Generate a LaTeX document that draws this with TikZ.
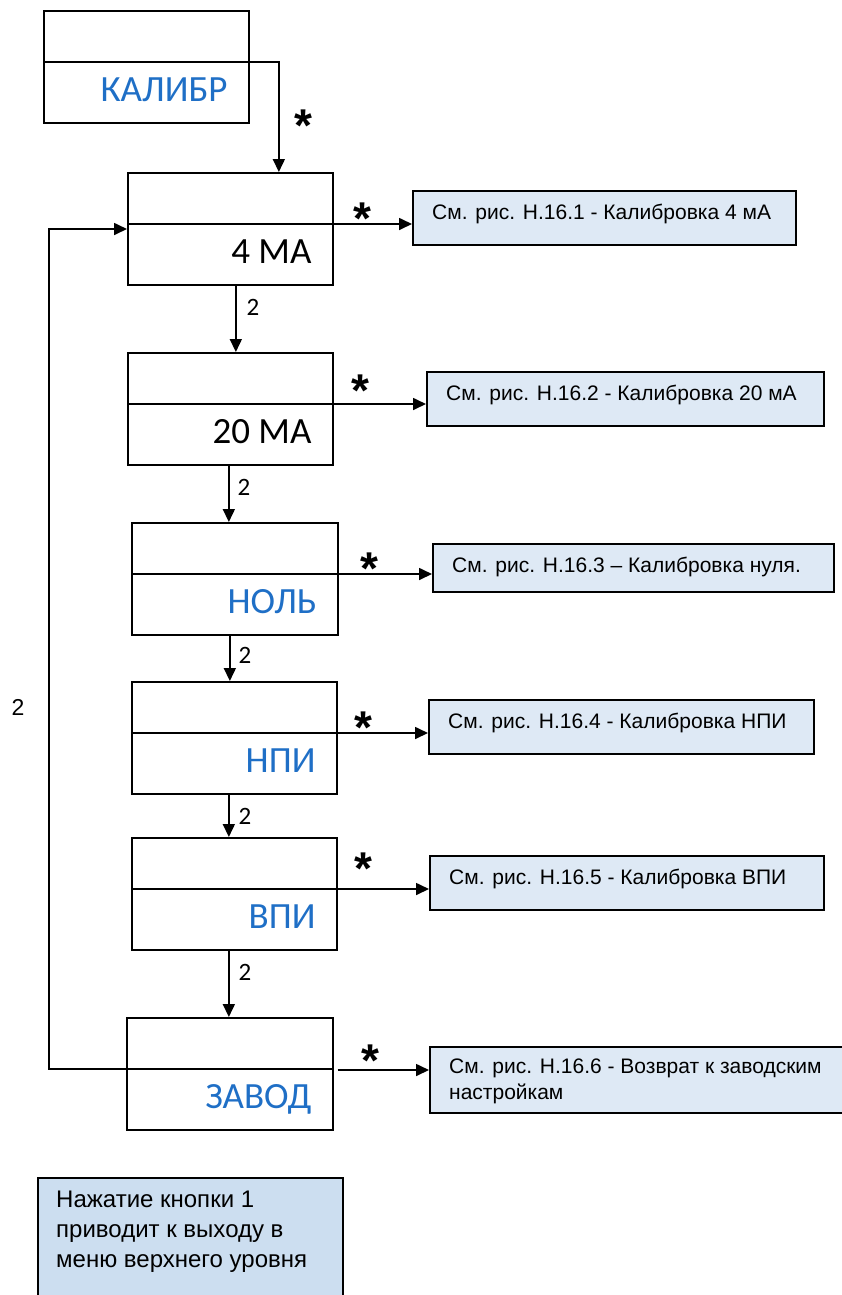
\documentclass[tikz,border=0pt]{standalone}
\usepackage{fontspec}
\setmainfont{Liberation Sans}
\newfontfamily\calib{Carlito}
\usetikzlibrary{arrows.meta}
\definecolor{lblue}{RGB}{31,111,198}
\definecolor{rfill}{RGB}{222,233,245}
\definecolor{nfill}{RGB}{204,222,240}
\newcommand\mkmenu[6]{%
  \node[menubox, minimum width=#6bp] (#1) at (#2,#3) {};
  \coordinate (#1-dl) at ([yshift=-52bp]#1.north west);
  \coordinate (#1-dr) at ([yshift=-52bp]#1.north east);
  \draw[conn] (#1-dl) -- (#1-dr);
  \node[mlabel, text=#5] (#1-t) at ([xshift=-22bp,yshift=-39bp]#1-dr) {#4};
}
\newcommand\mkref[6]{%
  \node[refbox, minimum width=#4bp, minimum height=#5bp] (#1) at (#2,#3) {};
  \node[rtext] (#1-t) at ([xshift=20bp,yshift=-29bp]#1.north west) {#6};
}
\begin{document}
\begin{tikzpicture}[x=1bp,y=-1bp,
  menubox/.style={draw, line width=1.7bp, minimum height=112bp, inner sep=0pt, anchor=north west},
  refbox/.style={draw, line width=1.7bp, fill=rfill, inner sep=0pt, anchor=north west},
  conn/.style={line width=1.7bp},
  arr/.style={line width=1.7bp, -{Triangle[length=13bp,width=12bp]}},
  mlabel/.style={font=\calib\fontsize{37bp}{42bp}\selectfont, anchor=base east, inner sep=0pt},
  rtext/.style={font=\fontsize{21bp}{26bp}\selectfont, anchor=base west, inner sep=0pt},
  star/.style={font=\bfseries\fontsize{46bp}{46bp}\selectfont, anchor=base, inner sep=0pt},
  two/.style={font=\calib\fontsize{25bp}{25bp}\selectfont, anchor=base, inner sep=0pt}]
\useasboundingbox (0,0) rectangle (842,1295);

% menu boxes
\mkmenu{kal}{43}{10}{КАЛИБР}{lblue}{205}
\mkmenu{ma4}{127}{172}{4 МА}{black}{205}
\mkmenu{ma20}{127}{352}{20 МА}{black}{205}
\mkmenu{nol}{131}{522}{НОЛЬ}{lblue}{206}
\mkmenu{npi}{131}{681}{НПИ}{lblue}{205}
\mkmenu{vpi}{131}{837}{ВПИ}{lblue}{205}
\mkmenu{zav}{126}{1017}{ЗАВОД}{lblue}{206}

% reference boxes
\mkref{r1}{412}{190}{383}{54}{См. рис. Н.16.1 - Калибровка 4 мА}
\mkref{r2}{426}{371}{397}{54}{См. рис. Н.16.2 - Калибровка 20 мА}
\mkref{r3}{432}{543}{401}{48}{См. рис. Н.16.3 – Калибровка нуля.}
\mkref{r4}{428}{699}{385}{54}{См. рис. Н.16.4 - Калибровка НПИ}
\mkref{r5}{429}{855}{394}{54}{См. рис. Н.16.5 - Калибровка ВПИ}
\node[refbox, minimum width=420bp, minimum height=66bp] (r6) at (429,1046) {};
\node[font=\fontsize{21bp}{26bp}\selectfont, align=left, anchor=north west, inner sep=0pt] (r6-t)
  at ([xshift=20bp,yshift=-13bp]r6.north west) {См. рис. Н.16.6 - Возврат к заводским\\настройкам};

% note box
\node[draw, line width=1.7bp, fill=nfill, minimum width=305bp, minimum height=140bp, inner sep=0pt, anchor=north west] (note) at (37,1177) {};
\node[font=\fontsize{24bp}{30bp}\selectfont, align=left, anchor=north west, inner sep=0pt] (note-t)
  at ([xshift=19bp,yshift=-14bp]note.north west) {Нажатие кнопки 1\\приводит к выходу в\\меню верхнего уровня};

% connectors
\draw[arr] (kal-dr) -| ([xshift=48.5bp]ma4.north);
\draw[arr] ([xshift=5.5bp]ma4.south) -- ([xshift=5.5bp]ma4.south |- ma20.north);
\draw[arr] ([xshift=-1.5bp]ma20.south) -- ([xshift=-1.5bp]ma20.south |- nol.north);
\draw[arr] ([xshift=-5bp]nol.south) -- ([xshift=-5bp]nol.south |- npi.north);
\draw[arr] ([xshift=-5.5bp]npi.south) -- ([xshift=-5.5bp]npi.south |- vpi.north);
\draw[arr] ([xshift=-5.5bp]vpi.south) -- ([xshift=-5.5bp]vpi.south |- zav.north);

\draw[arr] (ma4-dr) -- (ma4-dr -| r1.west);
\draw[arr] (ma20-dr) -- (ma20-dr -| r2.west);
\draw[arr] (nol-dr) -- (nol-dr -| r3.west);
\draw[arr] (npi-dr) -- (npi-dr -| r4.west);
\draw[arr] (vpi-dr) -- (vpi-dr -| r5.west);
\draw[arr] ([xshift=4bp,yshift=-1bp]zav-dr) -- ([yshift=-1bp]zav-dr -| r6.west);

\coordinate (loopx) at (49,700);
\coordinate (ma4in) at ([yshift=-57bp]ma4.north west);
\draw[arr] (zav-dl) -- (zav-dl -| loopx) -- (loopx |- ma4in) -- (ma4in);

% stars
\node[star] (st0) at (303,141) {*};
\node[star] (st1) at (362,234) {*};
\node[star] (st2) at (360,406) {*};
\node[star] (st3) at (369,584) {*};
\node[star] (st4) at (363,743) {*};
\node[star] (st5) at (363,884) {*};
\node[star] (st6) at (370,1076) {*};

% labels "2"
\node[two] (t1) at (253,315) {2};
\node[two] (t2) at (244,495) {2};
\node[two] (t3) at (245,663) {2};
\node[two] (t4) at (245,824) {2};
\node[two] (t5) at (245,980) {2};
\node[font=\fontsize{23bp}{23bp}\selectfont, anchor=base, inner sep=0pt] (t6) at (18,715) {2};
\end{tikzpicture}
\end{document}
